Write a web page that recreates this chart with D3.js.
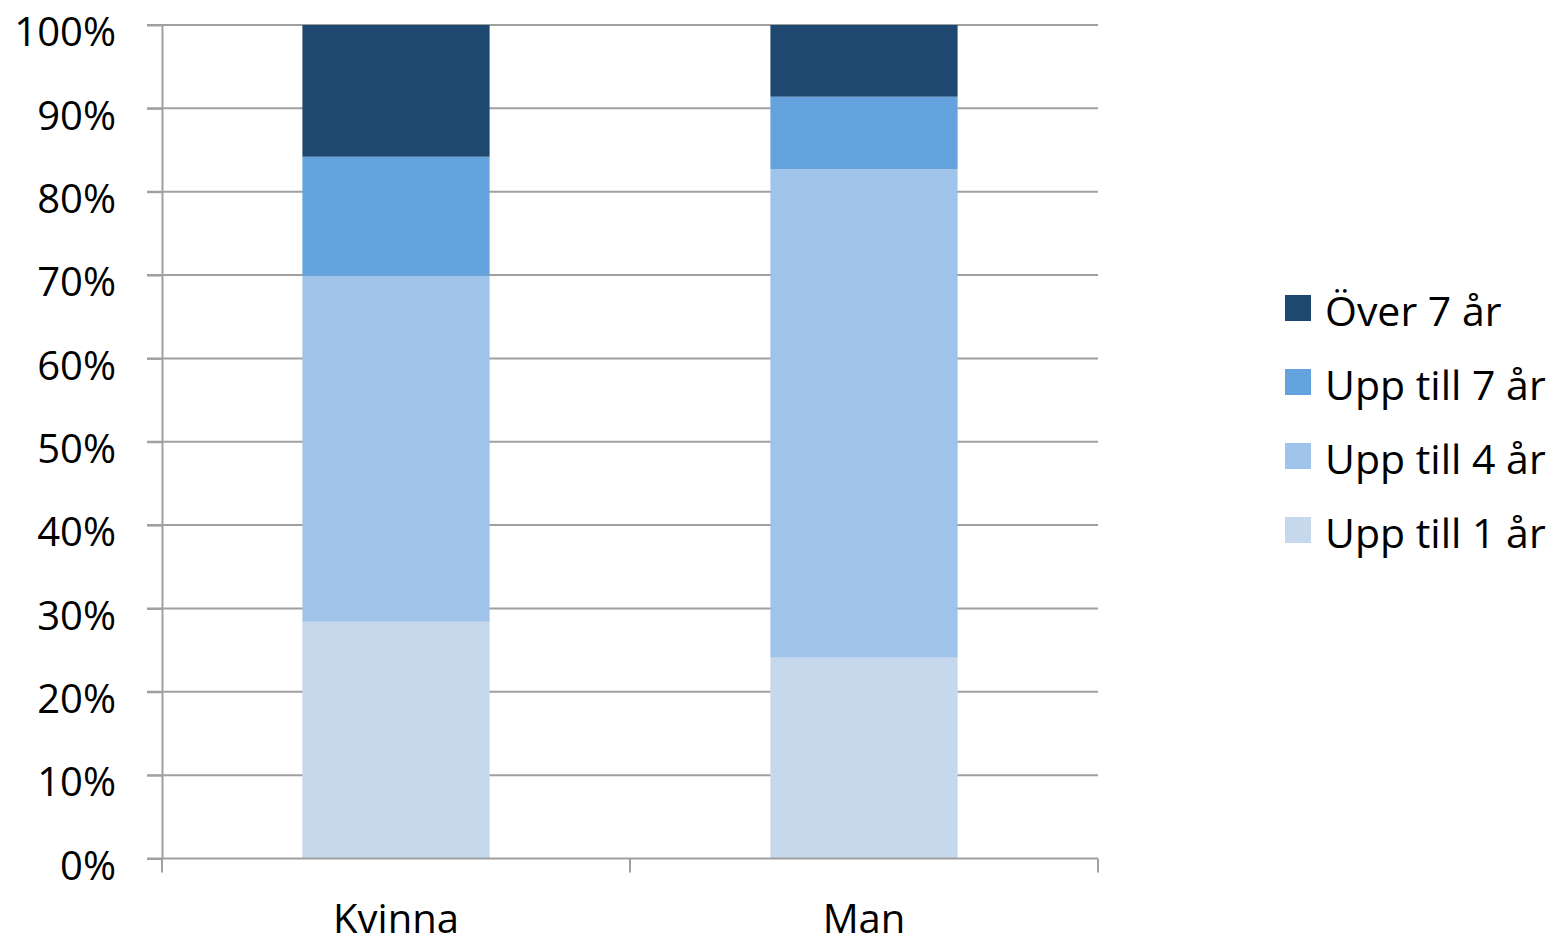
<!DOCTYPE html>
<html>
<head>
<meta charset="utf-8">
<script src="https://cdn.jsdelivr.net/npm/d3@7"></script>
<style>
  body { margin: 0; background: #fff; }
  text { font-family: "Open Sans", sans-serif; fill: #000; }
  .axis path, .axis line { stroke: #a0a0a0; stroke-width: 2; }
</style>
</head>
<body>
<script>
//categories and series (percent of each bar)
var categories = ["Kvinna", "Man"];
var seriesNames = ["Upp till 1 år", "Upp till 4 år", "Upp till 7 år", "Över 7 år"];
var upp1 = [28.4, 24.1];
var upp4 = [41.5, 58.6];
var upp7 = [14.3, 8.7];
var over7 = [15.8, 8.6];
var yTicks = [0, 10, 20, 30, 40, 50, 60, 70, 80, 90, 100];
var colors = ["#c5d8ec", "#a0c3e9", "#64a2dd", "#1f4870"];

//Width and height
var w = 1556;
var h = 941;
var padLeft = 162, padRight = 1098, padTop = 25, padBottom = 858.5;

var svg = d3.select("body")
            .append("svg")
            .attr("width", w)
            .attr("height", h);

var rows = categories.map(function(c, i){
    return {cat: c, s0: upp1[i], s1: upp4[i], s2: upp7[i], s3: over7[i]};
});

var stack = d3.stack().keys(["s0", "s1", "s2", "s3"]);
var stacked = stack(rows);

var yScale = d3.scaleLinear()
           .domain([0, 100])
           .range([padBottom, padTop]);

var xScale = d3.scaleBand()
            .domain(categories)
            .range([padLeft, padRight])
            .paddingInner(0.6)
            .paddingOuter(0.3);

//gridlines
svg.append("g")
    .selectAll("line")
    .data(yTicks.slice(1))
    .enter()
    .append("line")
    .attr("x1", padLeft - 15)
    .attr("x2", padRight)
    .attr("y1", function(d){ return yScale(d); })
    .attr("y2", function(d){ return yScale(d); })
    .attr("stroke", "#a0a0a0")
    .attr("stroke-width", 2);

//bars
svg.append("g")
    .selectAll("g")
    .data(stacked)
    .enter()
    .append("g")
    .attr("fill", function(d, i){ return colors[i]; })
    .selectAll("rect")
    .data(function(d){ return d; })
    .enter()
    .append("rect")
    .attr("x", function(d){ return xScale(d.data.cat); })
    .attr("width", xScale.bandwidth())
    .attr("y", function(d){ return yScale(d[1]); })
    .attr("height", function(d){ return yScale(d[0]) - yScale(d[1]); });

//Y axis
var yAxis = svg.append("g")
    .attr("class", "axis")
    .attr("transform", "translate(" + padLeft + ",0)")
    .call(d3.axisLeft(yScale).tickValues(yTicks).tickSize(15).tickSizeOuter(0)
          .tickFormat(function(d){ return d + "%"; }));
yAxis.selectAll("text")
    .style("font-size", "40px")
    .attr("x", -46)
    .attr("dy", "0.52em");

//X axis
var xBound = d3.scaleLinear().domain([0, categories.length]).range([padLeft, padRight]);
var xAxis = svg.append("g")
    .attr("class", "axis")
    .attr("transform", "translate(0," + padBottom + ")");
xAxis.append("line")
    .attr("x1", padLeft - 15).attr("x2", padRight);
xAxis.selectAll(".xt")
    .data(d3.range(categories.length + 1))
    .enter()
    .append("line")
    .attr("x1", function(d){ return xBound(d); })
    .attr("x2", function(d){ return xBound(d); })
    .attr("y1", 0).attr("y2", 14);
xAxis.selectAll(".xl")
    .data(categories)
    .enter()
    .append("text")
    .attr("x", function(d){ return xScale(d) + xScale.bandwidth() / 2; })
    .attr("y", 74)
    .attr("text-anchor", "middle")
    .style("font-size", "40px")
    .text(function(d){ return d; });

//legend
var legend = svg.append("g")
    .selectAll("g")
    .data(seriesNames.slice().reverse())
    .enter()
    .append("g")
    .attr("transform", function(d, i){ return "translate(1285," + (295 + i * 74) + ")"; });
legend.append("rect")
    .attr("width", 26).attr("height", 26)
    .attr("fill", function(d, i){ return colors[3 - i]; });
legend.append("text")
    .attr("x", 40)
    .attr("y", 16)
    .attr("dy", "0.36em")
    .style("font-size", "41px")
    .text(function(d){ return d; });
</script>
</body>
</html>
